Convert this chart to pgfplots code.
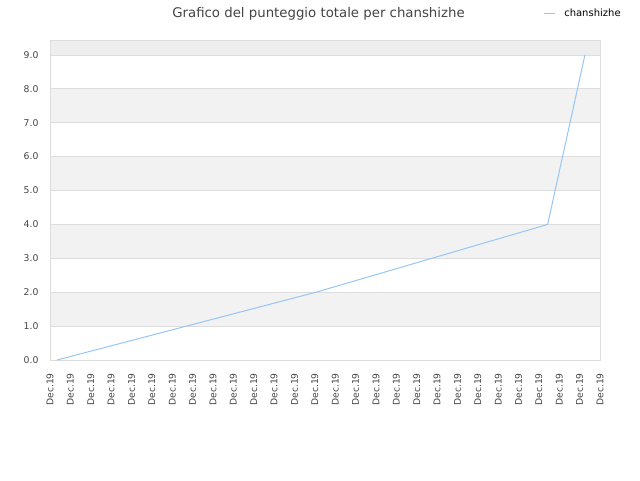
\documentclass[border=0pt]{standalone}
\usepackage{fontspec}
\setmainfont{DejaVu Sans}
\usepackage{pgfplots}
\pgfplotsset{compat=1.18}
\definecolor{bandgray}{HTML}{F2F2F2}
\definecolor{topgray}{HTML}{EEEEEE}
\definecolor{gridgray}{HTML}{DDDDDD}
\definecolor{linecol}{RGB}{150,198,245}
\definecolor{txt}{HTML}{444444}
\begin{document}
\begin{tikzpicture}
\begin{axis}[
  at={(50pt,120pt)}, anchor=south west,
  scale only axis, width=550pt, height=320pt,
  set layers,
  xmin=0, xmax=27, ymin=0, ymax=9.44,
  xtick={0,...,27}, xticklabel={Dec.19},
  ytick={0,...,9},
  major tick length=0pt,
  ymajorgrids,
  major grid style={gridgray, line width=0.8pt},
  axis line style={gridgray, line width=0.8pt},
  /pgf/number format/assume math mode=true,
  yticklabel={\pgfmathprintnumber[fixed,fixed zerofill,precision=1]{\tick}},
  yticklabel style={font=\fontsize{9.3}{10}\selectfont, text=txt, anchor=east, xshift=-8pt},
  xticklabel style={font=\fontsize{9.2}{10}\selectfont, text=txt, rotate=90, anchor=east, inner sep=0pt, xshift=-13pt},
  title={Grafico del punteggio totale per chanshizhe},
  title style={font=\fontsize{13.3}{15}\selectfont, text=txt, at={(0.4882,1)}, anchor=center, yshift=20pt},
  legend style={draw=none, fill=none, at={(0.8965,1.084)}, anchor=west, font=\fontsize{10}{12}\selectfont, inner sep=0pt},
  legend image code/.code={\draw[#1] (0pt,0pt) -- (11pt,0pt); \path (18pt,0pt);},
]
\begin{pgfonlayer}{axis background}
\pgfplotsinvokeforeach{1,3,5,7}{\fill[bandgray] (axis cs:0,#1) rectangle (axis cs:27,#1+1);}
\fill[topgray] (axis cs:0,9) rectangle (axis cs:27,9.44);
\end{pgfonlayer}
\addplot[linecol, line width=1pt] coordinates {
 (0.344, 0)
 (13.06, 2)
 (24.43, 4)
 (26.26, 9)
};
\addlegendentry{chanshizhe}
\end{axis}
\pgfresetboundingbox
\useasboundingbox (0,0) rectangle (640pt,480pt);
\end{tikzpicture}
\end{document}
